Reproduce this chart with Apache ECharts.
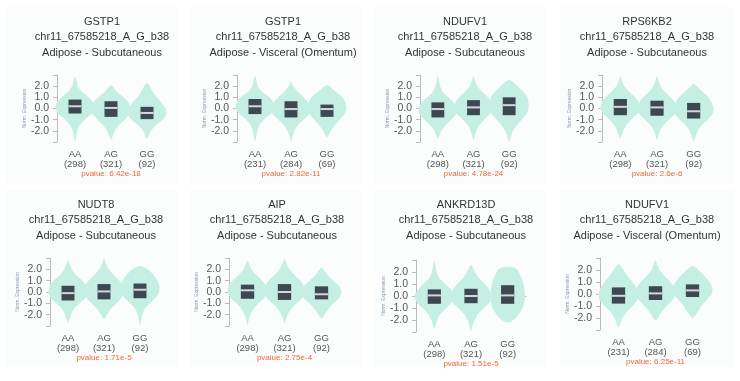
<!DOCTYPE html>
<html>
<head>
<meta charset="utf-8">
<script src="https://cdn.jsdelivr.net/npm/echarts@6/dist/echarts.min.js"></script>
<style>
  html, body { margin: 0; padding: 0; background: #fff; }
  #chart { width: 740px; height: 381px; }
</style>
</head>
<body>
<div id="chart"></div>
<script>
// genotypes on every x axis
const categories = ['AA', 'AG', 'GG'];
const snp = 'chr11_67585218_A_G_b38';
const genes = ['GSTP1', 'GSTP1', 'NDUFV1', 'RPS6KB2', 'NUDT8', 'AIP', 'ANKRD13D', 'NDUFV1'];
const tissues = [
  'Adipose - Subcutaneous', 'Adipose - Visceral (Omentum)', 'Adipose - Subcutaneous', 'Adipose - Subcutaneous',
  'Adipose - Subcutaneous', 'Adipose - Subcutaneous', 'Adipose - Subcutaneous', 'Adipose - Visceral (Omentum)'
];
const counts = [
  [298, 321, 92], [231, 284, 69], [298, 321, 92], [298, 321, 92],
  [298, 321, 92], [298, 321, 92], [298, 321, 92], [231, 284, 69]
];
const pvalues = ['6.42e-18', '2.82e-11', '4.78e-24', '2.6e-6', '1.71e-5', '2.75e-4', '1.51e-5', '6.25e-11'];

// box per genotype: [q1, median, q3]
const boxes = [
  [[-0.45, 0.2, 0.8], [-0.75, 0.05, 0.65], [-0.95, -0.4, 0.15]],
  [[-0.5, 0.2, 0.85], [-0.8, -0.05, 0.65], [-0.75, -0.05, 0.35]],
  [[-0.8, -0.05, 0.55], [-0.6, 0.1, 0.75], [-0.6, 0.3, 1.0]],
  [[-0.6, 0.15, 0.85], [-0.65, 0.1, 0.7], [-0.9, -0.25, 0.5]],
  [[-0.75, -0.1, 0.55], [-0.65, 0.05, 0.7], [-0.55, 0.2, 0.75]],
  [[-0.6, 0.15, 0.65], [-0.7, 0.0, 0.7], [-0.65, -0.2, 0.5]],
  [[-0.65, 0.05, 0.55], [-0.6, 0.0, 0.6], [-0.65, 0.05, 0.9]],
  [[-0.8, -0.15, 0.55], [-0.5, 0.05, 0.65], [-0.25, 0.3, 0.8]]
];

// violin outline per genotype: [expression, relative half width], top to bottom
const profiles = [
  [
    [[2.85, 0], [2.5, 0.08], [2.0, 0.15], [1.5, 0.35], [1.0, 0.7], [0.5, 0.95], [0, 1], [-0.5, 0.85], [-1, 0.5], [-1.5, 0.25], [-2, 0.12], [-2.5, 0.06], [-2.95, 0]],
    [[2.1, 0], [1.5, 0.3], [1.0, 0.65], [0.5, 0.92], [0, 1], [-0.5, 0.95], [-1, 0.7], [-1.5, 0.4], [-2, 0.2], [-2.5, 0.08], [-2.85, 0]],
    [[2.3, 0], [2.0, 0.15], [1.5, 0.3], [1.0, 0.5], [0.5, 0.75], [0, 0.95], [-0.5, 1], [-1, 0.8], [-1.5, 0.45], [-2, 0.2], [-2.5, 0.08], [-2.7, 0]]
  ],
  [
    [[2.95, 0], [2.5, 0.08], [2.0, 0.15], [1.5, 0.35], [1.0, 0.75], [0.5, 0.95], [0, 1], [-0.5, 0.8], [-1, 0.45], [-1.5, 0.22], [-2, 0.12], [-2.5, 0.06], [-2.95, 0]],
    [[2.4, 0], [2.0, 0.12], [1.5, 0.35], [1.0, 0.65], [0.5, 0.9], [0, 1], [-0.5, 0.95], [-1, 0.65], [-1.5, 0.35], [-2, 0.18], [-2.5, 0.08], [-2.95, 0]],
    [[2.1, 0], [1.5, 0.45], [1.0, 0.8], [0.5, 0.95], [0, 1], [-0.5, 0.9], [-1, 0.65], [-1.5, 0.4], [-2, 0.2], [-2.6, 0]]
  ],
  [
    [[2.95, 0], [2.5, 0.06], [2.0, 0.12], [1.5, 0.25], [1.0, 0.55], [0.5, 0.85], [0, 1], [-0.5, 0.95], [-1, 0.7], [-1.5, 0.4], [-2, 0.18], [-2.7, 0]],
    [[2.9, 0], [2.5, 0.08], [2.0, 0.2], [1.5, 0.45], [1.0, 0.75], [0.5, 0.95], [0, 1], [-0.5, 0.85], [-1, 0.55], [-1.5, 0.3], [-2, 0.15], [-2.5, 0.06], [-2.85, 0]],
    [[2.55, 0], [2.0, 0.45], [1.5, 0.75], [1.0, 0.95], [0.5, 1], [0, 1], [-0.5, 0.9], [-1, 0.65], [-1.5, 0.4], [-2, 0.2], [-2.5, 0.1], [-2.95, 0]]
  ],
  [
    [[2.9, 0], [2.5, 0.08], [2.0, 0.2], [1.5, 0.45], [1.0, 0.75], [0.5, 0.95], [0, 1], [-0.5, 0.85], [-1, 0.55], [-1.5, 0.3], [-2, 0.15], [-2.7, 0]],
    [[2.9, 0], [2.5, 0.08], [2.0, 0.18], [1.5, 0.4], [1.0, 0.7], [0.5, 0.92], [0, 1], [-0.5, 0.9], [-1, 0.6], [-1.5, 0.32], [-2, 0.15], [-2.5, 0.06], [-2.85, 0]],
    [[2.25, 0], [2.0, 0.15], [1.5, 0.45], [1.0, 0.75], [0.5, 0.92], [0, 1], [-0.5, 0.95], [-1, 0.7], [-1.5, 0.4], [-2, 0.2], [-2.5, 0.1], [-2.95, 0]]
  ],
  [
    [[2.8, 0], [2.5, 0.08], [2.0, 0.2], [1.5, 0.4], [1.0, 0.75], [0.5, 0.95], [0, 1], [-0.5, 0.9], [-1, 0.6], [-1.5, 0.3], [-2, 0.15], [-2.5, 0.06], [-2.75, 0]],
    [[2.95, 0], [2.5, 0.1], [2.0, 0.25], [1.5, 0.5], [1.0, 0.8], [0.5, 0.98], [0, 1], [-0.5, 0.9], [-1, 0.65], [-1.5, 0.35], [-2, 0.15], [-2.4, 0]],
    [[2.3, 0], [2.0, 0.4], [1.5, 0.7], [1.0, 0.9], [0.5, 1], [0, 0.98], [-0.5, 0.8], [-1, 0.5], [-1.5, 0.25], [-2, 0.12], [-2.5, 0.06], [-2.95, 0]]
  ],
  [
    [[2.8, 0], [2.5, 0.08], [2.0, 0.2], [1.5, 0.45], [1.0, 0.75], [0.5, 0.95], [0, 1], [-0.5, 0.85], [-1, 0.55], [-1.5, 0.3], [-2, 0.15], [-2.5, 0.06], [-2.95, 0]],
    [[2.95, 0], [2.5, 0.1], [2.0, 0.25], [1.5, 0.5], [1.0, 0.8], [0.5, 0.97], [0, 1], [-0.5, 0.9], [-1, 0.6], [-1.5, 0.33], [-2, 0.15], [-2.5, 0.06], [-2.8, 0]],
    [[2.15, 0], [1.5, 0.3], [1.0, 0.6], [0.5, 0.9], [0, 1], [-0.5, 0.9], [-1, 0.6], [-1.5, 0.35], [-2, 0.15], [-2.35, 0]]
  ],
  [
    [[2.95, 0], [2.5, 0.06], [2.0, 0.12], [1.5, 0.25], [1.0, 0.55], [0.5, 0.85], [0, 1], [-0.5, 0.9], [-1, 0.6], [-1.5, 0.3], [-2, 0.15], [-2.5, 0.06], [-2.7, 0]],
    [[2.6, 0], [2.0, 0.2], [1.5, 0.4], [1.0, 0.7], [0.5, 0.92], [0, 1], [-0.5, 0.95], [-1, 0.65], [-1.5, 0.35], [-2, 0.18], [-2.5, 0.08], [-2.9, 0]],
    [[2.42, 0], [2.38, 0.3], [2.2, 0.48], [1.5, 0.7], [1.0, 0.8], [0.5, 0.85], [0, 0.88], [-0.5, 0.85], [-1, 0.76], [-1.5, 0.58], [-1.9, 0.38], [-2.15, 0.15], [-2.2, 0]]
  ],
  [
    [[2.5, 0], [2.0, 0.25], [1.5, 0.45], [1.0, 0.7], [0.5, 0.9], [0, 1], [-0.5, 0.95], [-1, 0.7], [-1.5, 0.4], [-2, 0.2], [-2.5, 0.08], [-2.8, 0]],
    [[2.85, 0], [2.5, 0.08], [2.0, 0.2], [1.5, 0.45], [1.0, 0.75], [0.5, 0.95], [0, 1], [-0.5, 0.85], [-1, 0.55], [-1.5, 0.3], [-2, 0.12], [-2.2, 0]],
    [[2.35, 0], [2.0, 0.3], [1.5, 0.6], [1.0, 0.85], [0.5, 1], [0, 0.95], [-0.5, 0.7], [-1, 0.45], [-1.5, 0.25], [-2.0, 0]]
  ]
];

// panel placement in pixels
const panels = [
  { left: 57,  right: 165, top: 75,  height: 67, titleX: 102, titleY: 14,  bg: [5, 7] },
  { left: 237, right: 345, top: 75,  height: 67, titleX: 283, titleY: 14,  bg: [189, 7] },
  { left: 420, right: 527, top: 75,  height: 67, titleX: 465, titleY: 14,  bg: [373, 7] },
  { left: 602, right: 712, top: 75,  height: 67, titleX: 647, titleY: 14,  bg: [560, 7] },
  { left: 50,  right: 158, top: 258, height: 68, titleX: 96,  titleY: 197, bg: [5, 190] },
  { left: 229, right: 340, top: 258, height: 68, titleX: 277, titleY: 197, bg: [189, 190] },
  { left: 416, right: 526, top: 260, height: 72, titleX: 466, titleY: 197, bg: [373, 190] },
  { left: 600, right: 711, top: 258, height: 72, titleX: 647, titleY: 197, bg: [560, 190] }
];

const FONT = '"Liberation Sans", Arial, sans-serif';
const VIOLIN_W = 0.54;
const BOX_W = 0.18;

function renderViolin(params, api) {
  const p = params.seriesIndex;
  const i = params.dataIndex;
  const band = api.size([1, 0])[0];
  const rightSide = [];
  const leftSide = [];
  profiles[p][i].forEach(function (pt) {
    const c = api.coord([i, pt[0]]);
    const hw = pt[1] * band * VIOLIN_W;
    rightSide.push([c[0] + hw, c[1]]);
    leftSide.push([c[0] - hw, c[1]]);
  });
  const points = rightSide.concat(leftSide.slice(1, -1).reverse());
  const b = boxes[p][i];
  const top = api.coord([i, b[2]]);
  const bot = api.coord([i, b[0]]);
  const mid = api.coord([i, b[1]]);
  const bw = band * BOX_W;
  return {
    type: 'group',
    children: [
      { type: 'polygon', shape: { points: points, smooth: 0.22 }, style: { fill: '#c6efe3' } },
      { type: 'rect', shape: { x: top[0] - bw, y: top[1], width: bw * 2, height: bot[1] - top[1] }, style: { fill: '#3e4852' } },
      { type: 'line', shape: { x1: mid[0] - bw, y1: mid[1], x2: mid[0] + bw, y2: mid[1] }, style: { stroke: '#d4d8da', lineWidth: 2 } }
    ]
  };
}

const grids = [], xAxes = [], yAxes = [], series = [], graphics = [];

panels.forEach(function (pl, p) {
  graphics.push({
    type: 'rect', z: -10, silent: true,
    shape: { x: pl.bg[0], y: pl.bg[1], width: 173, height: 177 },
    style: { fill: '#fbfdfd' }
  });
  graphics.push({
    type: 'text', x: pl.titleX, y: pl.titleY,
    style: {
      text: genes[p] + '\n' + snp + '\n' + tissues[p],
      fill: '#333', fontSize: 11, fontFamily: FONT, lineHeight: 15.5,
      align: 'center', verticalAlign: 'top'
    }
  });
  grids.push({ left: pl.left, top: pl.top, width: pl.right - pl.left, height: pl.height });
  xAxes.push({
    type: 'category', gridIndex: p, data: categories, offset: 4,
    name: 'pvalue: ' + pvalues[p], nameLocation: 'middle', nameGap: 23,
    nameTextStyle: { color: '#f2663a', fontSize: 8, fontFamily: FONT },
    axisLine: { lineStyle: { color: '#bbb' } },
    axisTick: { length: 4, interval: function (idx) { return idx === 0; }, lineStyle: { color: '#bbb' } },
    axisLabel: {
      margin: 4, color: '#555', fontSize: 9.5, lineHeight: 9.5, fontFamily: FONT,
      formatter: function (v, idx) { return v + '\n(' + counts[p][idx] + ')'; }
    }
  });
  yAxes.push({
    type: 'value', gridIndex: p, min: -3, max: 3, interval: 1,
    name: 'Norm. Expression', nameLocation: 'middle', nameGap: 29,
    nameTextStyle: { color: '#8a99b0', fontSize: 5, fontFamily: FONT },
    axisLine: { show: true, lineStyle: { color: '#bbb' } },
    axisTick: { show: true, length: 4, lineStyle: { color: '#bbb' } },
    splitLine: { show: false },
    axisLabel: {
      margin: 8, color: '#555', fontSize: 10.5, fontFamily: FONT,
      formatter: function (v) { return Math.abs(v) > 2.5 ? '' : v.toFixed(1); }
    }
  });
  series.push({
    type: 'custom', xAxisIndex: p, yAxisIndex: p,
    renderItem: renderViolin,
    encode: { x: 0, y: [1, 2, 3] },
    data: boxes[p].map(function (b, i) { return [i, b[0], b[1], b[2]]; }),
    silent: true
  });
});

const myChart = echarts.init(document.getElementById('chart'));
myChart.setOption({
  animation: false,
  grid: grids,
  xAxis: xAxes,
  yAxis: yAxes,
  series: series,
  graphic: graphics
});
</script>
</body>
</html>
